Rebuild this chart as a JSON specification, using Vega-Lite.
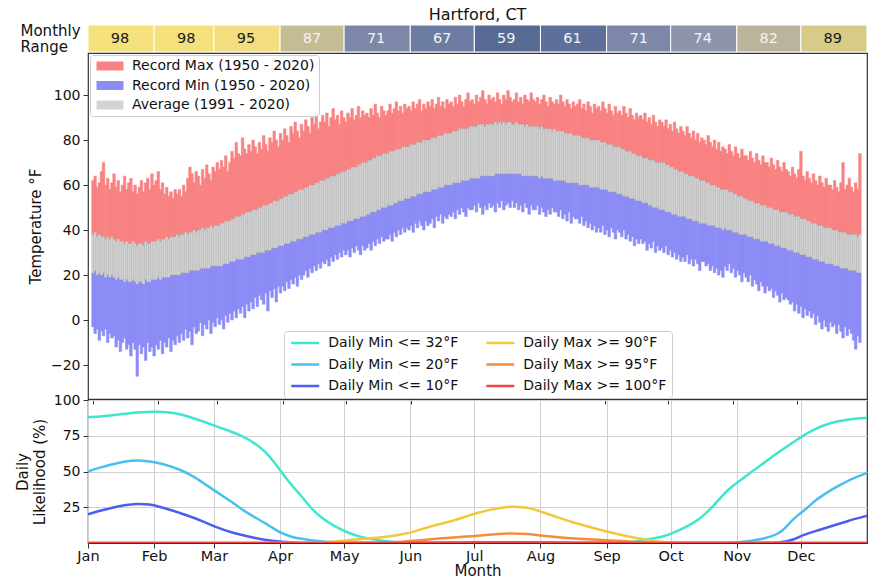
{
"$schema": "https://vega.github.io/schema/vega-lite/v6.json",
"padding": {"left": 14, "top": 7, "right": 3, "bottom": 3},
"background": "white",
"spacing": 1,
"bounds": "flush",
"config": {
  "font": "DejaVu Sans",
  "view": {"stroke": "#333333", "strokeWidth": 1.2},
  "axis": {"labelFont": "DejaVu Sans", "labelFontSize": 14, "labelColor": "#111111", "titleFont": "DejaVu Sans", "titleFontSize": 15, "titleFontWeight": "normal", "titleColor": "#111111", "tickColor": "#333333", "tickSize": 5, "labelPadding": 3, "domain": false},
  "legend": {"labelFont": "DejaVu Sans", "labelFontSize": 14, "labelColor": "#111111", "labelLimit": 400}
},
"resolve": {"scale": {"fill": "independent", "stroke": "independent"}, "legend": {"fill": "independent", "stroke": "independent"}},
"datasets": {
"mr": [
{"s":1,"e":32,"v":98},{"s":32,"e":60,"v":98},{"s":60,"e":91,"v":95},{"s":91,"e":121,"v":87},{"s":121,"e":152,"v":71},{"s":152,"e":182,"v":67},{"s":182,"e":213,"v":59},{"s":213,"e":244,"v":61},{"s":244,"e":274,"v":71},{"s":274,"e":305,"v":74},{"s":305,"e":335,"v":82},{"s":335,"e":366,"v":89}
],
"t": [
{"d":1,"rx":62,"h":38,"l":21,"rn":-3},{"d":2,"rx":64,"h":39,"l":22,"rn":-6},{"d":3,"rx":59,"h":37,"l":20,"rn":-4},{"d":4,"rx":61,"h":38,"l":21,"rn":-9},{"d":5,"rx":66,"h":37,"l":20,"rn":-5},{"d":6,"rx":70,"h":37,"l":21,"rn":-7},{"d":7,"rx":60,"h":36,"l":19,"rn":-4},{"d":8,"rx":63,"h":37,"l":20,"rn":-10},{"d":9,"rx":58,"h":36,"l":19,"rn":-6},{"d":10,"rx":61,"h":37,"l":20,"rn":-8},
{"d":11,"rx":65,"h":36,"l":19,"rn":-7},{"d":12,"rx":59,"h":35,"l":18,"rn":-12},{"d":13,"rx":62,"h":36,"l":19,"rn":-9},{"d":14,"rx":57,"h":35,"l":18,"rn":-14},{"d":15,"rx":60,"h":35,"l":18,"rn":-10},{"d":16,"rx":64,"h":34,"l":17,"rn":-8},{"d":17,"rx":58,"h":35,"l":18,"rn":-13},{"d":18,"rx":61,"h":34,"l":17,"rn":-11},{"d":19,"rx":63,"h":34,"l":17,"rn":-16},{"d":20,"rx":57,"h":35,"l":18,"rn":-10},
{"d":21,"rx":60,"h":34,"l":17,"rn":-13},{"d":22,"rx":56,"h":33,"l":16,"rn":-25},{"d":23,"rx":59,"h":34,"l":17,"rn":-11},{"d":24,"rx":62,"h":34,"l":17,"rn":-15},{"d":25,"rx":57,"h":33,"l":16,"rn":-12},{"d":26,"rx":61,"h":35,"l":18,"rn":-18},{"d":27,"rx":63,"h":34,"l":17,"rn":-10},{"d":28,"rx":58,"h":34,"l":17,"rn":-14},{"d":29,"rx":65,"h":35,"l":18,"rn":-12},{"d":30,"rx":60,"h":35,"l":18,"rn":-16},
{"d":31,"rx":62,"h":35,"l":18,"rn":-11},{"d":32,"rx":66,"h":36,"l":19,"rn":-13},{"d":33,"rx":58,"h":35,"l":18,"rn":-9},{"d":34,"rx":61,"h":36,"l":19,"rn":-15},{"d":35,"rx":56,"h":36,"l":19,"rn":-10},{"d":36,"rx":59,"h":37,"l":19,"rn":-12},{"d":37,"rx":55,"h":36,"l":19,"rn":-8},{"d":38,"rx":57,"h":37,"l":20,"rn":-14},{"d":39,"rx":54,"h":37,"l":20,"rn":-9},{"d":40,"rx":58,"h":37,"l":20,"rn":-11},
{"d":41,"rx":56,"h":38,"l":20,"rn":-7},{"d":42,"rx":58,"h":37,"l":20,"rn":-10},{"d":43,"rx":55,"h":38,"l":21,"rn":-6},{"d":44,"rx":60,"h":38,"l":21,"rn":-9},{"d":45,"rx":57,"h":39,"l":21,"rn":-4},{"d":46,"rx":63,"h":38,"l":21,"rn":-8},{"d":47,"rx":68,"h":39,"l":22,"rn":-5},{"d":48,"rx":65,"h":39,"l":22,"rn":-11},{"d":49,"rx":61,"h":40,"l":22,"rn":-3},{"d":50,"rx":66,"h":39,"l":22,"rn":-6},
{"d":51,"rx":64,"h":40,"l":22,"rn":-5},{"d":52,"rx":60,"h":40,"l":23,"rn":-1},{"d":53,"rx":67,"h":41,"l":23,"rn":-7},{"d":54,"rx":63,"h":40,"l":23,"rn":-2},{"d":55,"rx":69,"h":41,"l":23,"rn":-4},{"d":56,"rx":65,"h":41,"l":23,"rn":0},{"d":57,"rx":62,"h":42,"l":24,"rn":-6},{"d":58,"rx":68,"h":41,"l":24,"rn":-1},{"d":59,"rx":66,"h":42,"l":24,"rn":-3},{"d":60,"rx":70,"h":42,"l":24,"rn":1},
{"d":61,"rx":67,"h":42,"l":24,"rn":-2},{"d":62,"rx":71,"h":43,"l":24,"rn":0},{"d":63,"rx":68,"h":43,"l":25,"rn":-4},{"d":64,"rx":73,"h":44,"l":25,"rn":2},{"d":65,"rx":66,"h":44,"l":25,"rn":-1},{"d":66,"rx":70,"h":44,"l":26,"rn":3},{"d":67,"rx":75,"h":45,"l":26,"rn":0},{"d":68,"rx":72,"h":45,"l":26,"rn":4},{"d":69,"rx":79,"h":46,"l":27,"rn":1},{"d":70,"rx":74,"h":46,"l":27,"rn":5},
{"d":71,"rx":73,"h":46,"l":27,"rn":3},{"d":72,"rx":81,"h":47,"l":27,"rn":6},{"d":73,"rx":76,"h":47,"l":28,"rn":1},{"d":74,"rx":74,"h":48,"l":28,"rn":7},{"d":75,"rx":78,"h":48,"l":28,"rn":4},{"d":76,"rx":75,"h":48,"l":29,"rn":8},{"d":77,"rx":80,"h":49,"l":29,"rn":5},{"d":78,"rx":77,"h":49,"l":29,"rn":10},{"d":79,"rx":74,"h":49,"l":30,"rn":6},{"d":80,"rx":79,"h":50,"l":30,"rn":11},
{"d":81,"rx":76,"h":50,"l":30,"rn":9},{"d":82,"rx":82,"h":51,"l":30,"rn":7},{"d":83,"rx":78,"h":51,"l":31,"rn":12},{"d":84,"rx":75,"h":51,"l":31,"rn":4},{"d":85,"rx":81,"h":52,"l":31,"rn":13},{"d":86,"rx":79,"h":52,"l":32,"rn":10},{"d":87,"rx":84,"h":53,"l":32,"rn":14},{"d":88,"rx":80,"h":53,"l":32,"rn":8},{"d":89,"rx":77,"h":53,"l":33,"rn":15},{"d":90,"rx":83,"h":54,"l":33,"rn":12},
{"d":91,"rx":80,"h":54,"l":33,"rn":15},{"d":92,"rx":85,"h":55,"l":34,"rn":13},{"d":93,"rx":82,"h":55,"l":34,"rn":17},{"d":94,"rx":79,"h":56,"l":34,"rn":14},{"d":95,"rx":86,"h":56,"l":35,"rn":18},{"d":96,"rx":83,"h":56,"l":35,"rn":16},{"d":97,"rx":88,"h":57,"l":35,"rn":19},{"d":98,"rx":84,"h":57,"l":36,"rn":15},{"d":99,"rx":81,"h":58,"l":36,"rn":20},{"d":100,"rx":87,"h":58,"l":36,"rn":18},
{"d":101,"rx":84,"h":58,"l":37,"rn":20},{"d":102,"rx":89,"h":59,"l":37,"rn":22},{"d":103,"rx":86,"h":59,"l":37,"rn":19},{"d":104,"rx":83,"h":60,"l":38,"rn":23},{"d":105,"rx":90,"h":60,"l":38,"rn":21},{"d":106,"rx":87,"h":60,"l":38,"rn":24},{"d":107,"rx":92,"h":61,"l":39,"rn":22},{"d":108,"rx":85,"h":61,"l":39,"rn":25},{"d":109,"rx":88,"h":62,"l":39,"rn":23},{"d":110,"rx":91,"h":62,"l":40,"rn":26},
{"d":111,"rx":88,"h":62,"l":40,"rn":25},{"d":112,"rx":92,"h":63,"l":40,"rn":27},{"d":113,"rx":86,"h":63,"l":41,"rn":24},{"d":114,"rx":90,"h":64,"l":41,"rn":28},{"d":115,"rx":94,"h":64,"l":41,"rn":26},{"d":116,"rx":89,"h":64,"l":42,"rn":29},{"d":117,"rx":91,"h":65,"l":42,"rn":27},{"d":118,"rx":87,"h":65,"l":42,"rn":30},{"d":119,"rx":93,"h":66,"l":43,"rn":28},{"d":120,"rx":90,"h":66,"l":43,"rn":31},
{"d":121,"rx":88,"h":66,"l":43,"rn":29},{"d":122,"rx":92,"h":67,"l":44,"rn":31},{"d":123,"rx":90,"h":67,"l":44,"rn":28},{"d":124,"rx":94,"h":68,"l":44,"rn":32},{"d":125,"rx":89,"h":68,"l":45,"rn":30},{"d":126,"rx":91,"h":68,"l":45,"rn":33},{"d":127,"rx":95,"h":69,"l":45,"rn":31},{"d":128,"rx":90,"h":69,"l":46,"rn":29},{"d":129,"rx":93,"h":70,"l":46,"rn":33},{"d":130,"rx":91,"h":70,"l":46,"rn":31},
{"d":131,"rx":92,"h":70,"l":47,"rn":32},{"d":132,"rx":90,"h":71,"l":47,"rn":34},{"d":133,"rx":94,"h":71,"l":48,"rn":31},{"d":134,"rx":91,"h":72,"l":48,"rn":35},{"d":135,"rx":96,"h":72,"l":48,"rn":33},{"d":136,"rx":92,"h":73,"l":49,"rn":36},{"d":137,"rx":90,"h":73,"l":49,"rn":34},{"d":138,"rx":95,"h":73,"l":50,"rn":37},{"d":139,"rx":93,"h":74,"l":50,"rn":35},{"d":140,"rx":91,"h":74,"l":50,"rn":36},
{"d":141,"rx":93,"h":74,"l":51,"rn":36},{"d":142,"rx":96,"h":75,"l":51,"rn":38},{"d":143,"rx":92,"h":75,"l":51,"rn":35},{"d":144,"rx":94,"h":75,"l":52,"rn":39},{"d":145,"rx":97,"h":76,"l":52,"rn":37},{"d":146,"rx":93,"h":76,"l":53,"rn":40},{"d":147,"rx":95,"h":76,"l":53,"rn":38},{"d":148,"rx":92,"h":77,"l":53,"rn":41},{"d":149,"rx":96,"h":77,"l":54,"rn":39},{"d":150,"rx":94,"h":77,"l":54,"rn":41},
{"d":151,"rx":95,"h":77,"l":54,"rn":40},{"d":152,"rx":93,"h":78,"l":55,"rn":42},{"d":153,"rx":97,"h":78,"l":55,"rn":39},{"d":154,"rx":94,"h":78,"l":55,"rn":43},{"d":155,"rx":96,"h":79,"l":56,"rn":41},{"d":156,"rx":98,"h":79,"l":56,"rn":44},{"d":157,"rx":93,"h":79,"l":56,"rn":42},{"d":158,"rx":96,"h":80,"l":57,"rn":40},{"d":159,"rx":94,"h":80,"l":57,"rn":44},{"d":160,"rx":97,"h":80,"l":57,"rn":42},
{"d":161,"rx":95,"h":80,"l":57,"rn":43},{"d":162,"rx":98,"h":81,"l":58,"rn":45},{"d":163,"rx":94,"h":81,"l":58,"rn":41},{"d":164,"rx":96,"h":81,"l":58,"rn":46},{"d":165,"rx":99,"h":82,"l":59,"rn":44},{"d":166,"rx":95,"h":82,"l":59,"rn":47},{"d":167,"rx":97,"h":82,"l":59,"rn":43},{"d":168,"rx":94,"h":83,"l":60,"rn":46},{"d":169,"rx":98,"h":83,"l":60,"rn":45},{"d":170,"rx":96,"h":83,"l":60,"rn":47},
{"d":171,"rx":97,"h":83,"l":60,"rn":46},{"d":172,"rx":95,"h":84,"l":61,"rn":48},{"d":173,"rx":99,"h":84,"l":61,"rn":45},{"d":174,"rx":96,"h":84,"l":61,"rn":49},{"d":175,"rx":100,"h":85,"l":61,"rn":47},{"d":176,"rx":97,"h":85,"l":62,"rn":50},{"d":177,"rx":95,"h":85,"l":62,"rn":48},{"d":178,"rx":98,"h":85,"l":62,"rn":46},{"d":179,"rx":101,"h":85,"l":62,"rn":50},{"d":180,"rx":97,"h":86,"l":63,"rn":49},
{"d":181,"rx":98,"h":86,"l":63,"rn":49},{"d":182,"rx":96,"h":86,"l":63,"rn":51},{"d":183,"rx":100,"h":86,"l":63,"rn":48},{"d":184,"rx":97,"h":87,"l":63,"rn":52},{"d":185,"rx":99,"h":87,"l":64,"rn":50},{"d":186,"rx":102,"h":87,"l":64,"rn":47},{"d":187,"rx":98,"h":86,"l":64,"rn":51},{"d":188,"rx":96,"h":87,"l":64,"rn":49},{"d":189,"rx":100,"h":87,"l":64,"rn":52},{"d":190,"rx":98,"h":87,"l":64,"rn":50},
{"d":191,"rx":99,"h":87,"l":64,"rn":51},{"d":192,"rx":97,"h":88,"l":65,"rn":48},{"d":193,"rx":101,"h":87,"l":65,"rn":52},{"d":194,"rx":98,"h":88,"l":65,"rn":50},{"d":195,"rx":96,"h":87,"l":65,"rn":53},{"d":196,"rx":100,"h":88,"l":65,"rn":49},{"d":197,"rx":98,"h":87,"l":65,"rn":51},{"d":198,"rx":102,"h":88,"l":65,"rn":52},{"d":199,"rx":99,"h":88,"l":65,"rn":50},{"d":200,"rx":97,"h":87,"l":65,"rn":53},
{"d":201,"rx":98,"h":87,"l":65,"rn":50},{"d":202,"rx":101,"h":88,"l":65,"rn":52},{"d":203,"rx":97,"h":87,"l":65,"rn":49},{"d":204,"rx":99,"h":87,"l":65,"rn":51},{"d":205,"rx":96,"h":87,"l":64,"rn":48},{"d":206,"rx":100,"h":86,"l":64,"rn":52},{"d":207,"rx":98,"h":87,"l":64,"rn":50},{"d":208,"rx":97,"h":86,"l":64,"rn":47},{"d":209,"rx":101,"h":86,"l":64,"rn":51},{"d":210,"rx":98,"h":86,"l":64,"rn":49},
{"d":211,"rx":97,"h":86,"l":64,"rn":49},{"d":212,"rx":99,"h":86,"l":64,"rn":51},{"d":213,"rx":96,"h":85,"l":63,"rn":47},{"d":214,"rx":98,"h":86,"l":64,"rn":50},{"d":215,"rx":100,"h":85,"l":63,"rn":48},{"d":216,"rx":97,"h":85,"l":63,"rn":46},{"d":217,"rx":95,"h":85,"l":63,"rn":49},{"d":218,"rx":99,"h":85,"l":63,"rn":47},{"d":219,"rx":97,"h":84,"l":63,"rn":50},{"d":220,"rx":96,"h":85,"l":62,"rn":48},
{"d":221,"rx":98,"h":84,"l":62,"rn":48},{"d":222,"rx":96,"h":84,"l":62,"rn":46},{"d":223,"rx":100,"h":84,"l":62,"rn":49},{"d":224,"rx":97,"h":84,"l":62,"rn":45},{"d":225,"rx":95,"h":83,"l":62,"rn":47},{"d":226,"rx":98,"h":83,"l":61,"rn":44},{"d":227,"rx":96,"h":83,"l":61,"rn":48},{"d":228,"rx":94,"h":83,"l":61,"rn":43},{"d":229,"rx":97,"h":82,"l":61,"rn":46},{"d":230,"rx":95,"h":82,"l":61,"rn":45},
{"d":231,"rx":96,"h":82,"l":61,"rn":45},{"d":232,"rx":98,"h":82,"l":60,"rn":43},{"d":233,"rx":94,"h":81,"l":60,"rn":46},{"d":234,"rx":96,"h":81,"l":60,"rn":42},{"d":235,"rx":93,"h":81,"l":60,"rn":44},{"d":236,"rx":97,"h":81,"l":60,"rn":41},{"d":237,"rx":95,"h":80,"l":59,"rn":43},{"d":238,"rx":92,"h":80,"l":59,"rn":40},{"d":239,"rx":96,"h":80,"l":59,"rn":42},{"d":240,"rx":94,"h":80,"l":59,"rn":39},
{"d":241,"rx":95,"h":80,"l":59,"rn":41},{"d":242,"rx":93,"h":79,"l":58,"rn":39},{"d":243,"rx":97,"h":79,"l":58,"rn":42},{"d":244,"rx":94,"h":79,"l":58,"rn":38},{"d":245,"rx":92,"h":78,"l":58,"rn":40},{"d":246,"rx":96,"h":78,"l":57,"rn":37},{"d":247,"rx":93,"h":78,"l":57,"rn":41},{"d":248,"rx":91,"h":77,"l":57,"rn":39},{"d":249,"rx":95,"h":77,"l":57,"rn":36},{"d":250,"rx":92,"h":77,"l":56,"rn":40},
{"d":251,"rx":93,"h":77,"l":56,"rn":39},{"d":252,"rx":91,"h":76,"l":56,"rn":37},{"d":253,"rx":95,"h":76,"l":55,"rn":40},{"d":254,"rx":92,"h":75,"l":55,"rn":36},{"d":255,"rx":90,"h":75,"l":55,"rn":38},{"d":256,"rx":94,"h":75,"l":54,"rn":35},{"d":257,"rx":91,"h":74,"l":54,"rn":37},{"d":258,"rx":89,"h":74,"l":54,"rn":33},{"d":259,"rx":92,"h":73,"l":53,"rn":36},{"d":260,"rx":90,"h":73,"l":53,"rn":34},
{"d":261,"rx":91,"h":73,"l":53,"rn":36},{"d":262,"rx":89,"h":72,"l":52,"rn":34},{"d":263,"rx":92,"h":72,"l":52,"rn":35},{"d":264,"rx":88,"h":72,"l":52,"rn":31},{"d":265,"rx":90,"h":71,"l":51,"rn":34},{"d":266,"rx":87,"h":71,"l":51,"rn":32},{"d":267,"rx":91,"h":71,"l":50,"rn":35},{"d":268,"rx":88,"h":70,"l":50,"rn":30},{"d":269,"rx":86,"h":70,"l":50,"rn":33},{"d":270,"rx":89,"h":70,"l":49,"rn":31},
{"d":271,"rx":88,"h":70,"l":49,"rn":32},{"d":272,"rx":86,"h":70,"l":49,"rn":30},{"d":273,"rx":89,"h":69,"l":48,"rn":33},{"d":274,"rx":85,"h":69,"l":48,"rn":29},{"d":275,"rx":87,"h":68,"l":48,"rn":31},{"d":276,"rx":84,"h":68,"l":47,"rn":28},{"d":277,"rx":88,"h":67,"l":47,"rn":30},{"d":278,"rx":85,"h":67,"l":47,"rn":27},{"d":279,"rx":83,"h":66,"l":46,"rn":29},{"d":280,"rx":86,"h":66,"l":46,"rn":26},
{"d":281,"rx":84,"h":66,"l":46,"rn":28},{"d":282,"rx":82,"h":65,"l":46,"rn":26},{"d":283,"rx":86,"h":65,"l":45,"rn":29},{"d":284,"rx":83,"h":64,"l":45,"rn":25},{"d":285,"rx":81,"h":64,"l":45,"rn":27},{"d":286,"rx":84,"h":64,"l":44,"rn":24},{"d":287,"rx":80,"h":63,"l":44,"rn":27},{"d":288,"rx":83,"h":63,"l":44,"rn":25},{"d":289,"rx":79,"h":62,"l":43,"rn":22},{"d":290,"rx":81,"h":62,"l":43,"rn":26},
{"d":291,"rx":80,"h":62,"l":43,"rn":26},{"d":292,"rx":78,"h":61,"l":43,"rn":24},{"d":293,"rx":82,"h":61,"l":42,"rn":25},{"d":294,"rx":79,"h":60,"l":42,"rn":22},{"d":295,"rx":77,"h":60,"l":42,"rn":24},{"d":296,"rx":80,"h":60,"l":42,"rn":21},{"d":297,"rx":76,"h":59,"l":41,"rn":23},{"d":298,"rx":79,"h":59,"l":41,"rn":20},{"d":299,"rx":75,"h":58,"l":41,"rn":22},{"d":300,"rx":77,"h":58,"l":40,"rn":19},
{"d":301,"rx":76,"h":58,"l":41,"rn":24},{"d":302,"rx":74,"h":58,"l":40,"rn":22},{"d":303,"rx":78,"h":57,"l":40,"rn":25},{"d":304,"rx":75,"h":57,"l":40,"rn":21},{"d":305,"rx":73,"h":56,"l":39,"rn":23},{"d":306,"rx":77,"h":56,"l":39,"rn":19},{"d":307,"rx":74,"h":55,"l":39,"rn":22},{"d":308,"rx":72,"h":55,"l":38,"rn":20},{"d":309,"rx":76,"h":55,"l":38,"rn":17},{"d":310,"rx":73,"h":54,"l":38,"rn":21},
{"d":311,"rx":73,"h":54,"l":38,"rn":19},{"d":312,"rx":71,"h":53,"l":37,"rn":17},{"d":313,"rx":75,"h":53,"l":37,"rn":20},{"d":314,"rx":72,"h":53,"l":37,"rn":15},{"d":315,"rx":70,"h":52,"l":36,"rn":18},{"d":316,"rx":74,"h":52,"l":36,"rn":16},{"d":317,"rx":71,"h":52,"l":36,"rn":13},{"d":318,"rx":69,"h":51,"l":35,"rn":17},{"d":319,"rx":73,"h":51,"l":35,"rn":15},{"d":320,"rx":70,"h":51,"l":35,"rn":12},
{"d":321,"rx":70,"h":50,"l":35,"rn":15},{"d":322,"rx":68,"h":50,"l":34,"rn":13},{"d":323,"rx":72,"h":50,"l":34,"rn":14},{"d":324,"rx":69,"h":49,"l":34,"rn":10},{"d":325,"rx":67,"h":49,"l":33,"rn":13},{"d":326,"rx":71,"h":49,"l":33,"rn":11},{"d":327,"rx":68,"h":48,"l":33,"rn":8},{"d":328,"rx":66,"h":48,"l":32,"rn":12},{"d":329,"rx":70,"h":48,"l":32,"rn":9},{"d":330,"rx":67,"h":48,"l":32,"rn":10},
{"d":331,"rx":66,"h":47,"l":31,"rn":9},{"d":332,"rx":64,"h":47,"l":31,"rn":7},{"d":333,"rx":68,"h":47,"l":31,"rn":8},{"d":334,"rx":65,"h":46,"l":30,"rn":4},{"d":335,"rx":63,"h":46,"l":30,"rn":7},{"d":336,"rx":67,"h":46,"l":30,"rn":3},{"d":337,"rx":75,"h":45,"l":29,"rn":6},{"d":338,"rx":64,"h":45,"l":29,"rn":1},{"d":339,"rx":62,"h":45,"l":29,"rn":5},{"d":340,"rx":66,"h":44,"l":28,"rn":2},
{"d":341,"rx":63,"h":44,"l":28,"rn":4},{"d":342,"rx":61,"h":43,"l":28,"rn":1},{"d":343,"rx":65,"h":43,"l":27,"rn":3},{"d":344,"rx":62,"h":43,"l":27,"rn":-2},{"d":345,"rx":60,"h":42,"l":27,"rn":2},{"d":346,"rx":64,"h":42,"l":26,"rn":-1},{"d":347,"rx":61,"h":42,"l":26,"rn":-4},{"d":348,"rx":59,"h":41,"l":26,"rn":0},{"d":349,"rx":63,"h":41,"l":25,"rn":-3},{"d":350,"rx":60,"h":41,"l":25,"rn":-5},
{"d":351,"rx":60,"h":41,"l":25,"rn":-1},{"d":352,"rx":58,"h":40,"l":25,"rn":-3},{"d":353,"rx":62,"h":40,"l":24,"rn":-2},{"d":354,"rx":59,"h":40,"l":24,"rn":-6},{"d":355,"rx":57,"h":39,"l":24,"rn":-2},{"d":356,"rx":61,"h":39,"l":23,"rn":-5},{"d":357,"rx":70,"h":39,"l":23,"rn":-8},{"d":358,"rx":58,"h":39,"l":23,"rn":-3},{"d":359,"rx":60,"h":38,"l":23,"rn":-7},{"d":360,"rx":63,"h":38,"l":22,"rn":-4},
{"d":361,"rx":59,"h":38,"l":22,"rn":-6},{"d":362,"rx":57,"h":38,"l":22,"rn":-9},{"d":363,"rx":61,"h":38,"l":22,"rn":-13},{"d":364,"rx":58,"h":37,"l":21,"rn":-7},{"d":365,"rx":74,"h":38,"l":21,"rn":-10}
],
"lk": [
{"s":"Daily Min <= 32°F","d":1,"p":88},{"s":"Daily Min <= 32°F","d":8,"p":88.5},{"s":"Daily Min <= 32°F","d":16,"p":90},{"s":"Daily Min <= 32°F","d":24,"p":91.5},{"s":"Daily Min <= 32°F","d":34,"p":92},{"s":"Daily Min <= 32°F","d":42,"p":91},{"s":"Daily Min <= 32°F","d":48,"p":88.5},{"s":"Daily Min <= 32°F","d":55,"p":85},{"s":"Daily Min <= 32°F","d":62,"p":81},{"s":"Daily Min <= 32°F","d":68,"p":78},{"s":"Daily Min <= 32°F","d":73,"p":75},{"s":"Daily Min <= 32°F","d":79,"p":70},{"s":"Daily Min <= 32°F","d":84,"p":64},{"s":"Daily Min <= 32°F","d":88,"p":57},{"s":"Daily Min <= 32°F","d":92,"p":49},{"s":"Daily Min <= 32°F","d":96,"p":41},{"s":"Daily Min <= 32°F","d":101,"p":33},{"s":"Daily Min <= 32°F","d":105,"p":25},{"s":"Daily Min <= 32°F","d":110,"p":18},{"s":"Daily Min <= 32°F","d":116,"p":12},{"s":"Daily Min <= 32°F","d":123,"p":7},{"s":"Daily Min <= 32°F","d":129,"p":4},{"s":"Daily Min <= 32°F","d":135,"p":2.5},{"s":"Daily Min <= 32°F","d":142,"p":1},{"s":"Daily Min <= 32°F","d":150,"p":0.3},{"s":"Daily Min <= 32°F","d":160,"p":0},{"s":"Daily Min <= 32°F","d":250,"p":0},{"s":"Daily Min <= 32°F","d":255,"p":0.5},{"s":"Daily Min <= 32°F","d":260,"p":1.5},{"s":"Daily Min <= 32°F","d":265,"p":3},{"s":"Daily Min <= 32°F","d":271,"p":4.5},{"s":"Daily Min <= 32°F","d":275,"p":7},{"s":"Daily Min <= 32°F","d":281,"p":11},{"s":"Daily Min <= 32°F","d":287,"p":16},{"s":"Daily Min <= 32°F","d":293,"p":24},{"s":"Daily Min <= 32°F","d":298,"p":33},{"s":"Daily Min <= 32°F","d":303,"p":40},{"s":"Daily Min <= 32°F","d":307,"p":44},{"s":"Daily Min <= 32°F","d":312,"p":50},{"s":"Daily Min <= 32°F","d":317,"p":55},{"s":"Daily Min <= 32°F","d":322,"p":61},{"s":"Daily Min <= 32°F","d":328,"p":67},{"s":"Daily Min <= 32°F","d":333,"p":72},{"s":"Daily Min <= 32°F","d":337,"p":76},{"s":"Daily Min <= 32°F","d":342,"p":80},{"s":"Daily Min <= 32°F","d":347,"p":83},{"s":"Daily Min <= 32°F","d":352,"p":85},{"s":"Daily Min <= 32°F","d":357,"p":86.5},{"s":"Daily Min <= 32°F","d":366,"p":87.5},
{"s":"Daily Min <= 20°F","d":1,"p":50},{"s":"Daily Min <= 20°F","d":6,"p":52.5},{"s":"Daily Min <= 20°F","d":12,"p":55},{"s":"Daily Min <= 20°F","d":18,"p":57},{"s":"Daily Min <= 20°F","d":24,"p":58},{"s":"Daily Min <= 20°F","d":30,"p":57},{"s":"Daily Min <= 20°F","d":36,"p":55.5},{"s":"Daily Min <= 20°F","d":44,"p":51.5},{"s":"Daily Min <= 20°F","d":50,"p":47},{"s":"Daily Min <= 20°F","d":55,"p":42},{"s":"Daily Min <= 20°F","d":60,"p":37},{"s":"Daily Min <= 20°F","d":65,"p":32},{"s":"Daily Min <= 20°F","d":70,"p":27},{"s":"Daily Min <= 20°F","d":73,"p":23.5},{"s":"Daily Min <= 20°F","d":79,"p":18},{"s":"Daily Min <= 20°F","d":84,"p":14},{"s":"Daily Min <= 20°F","d":88,"p":10},{"s":"Daily Min <= 20°F","d":92,"p":6.5},{"s":"Daily Min <= 20°F","d":97,"p":4},{"s":"Daily Min <= 20°F","d":101,"p":3},{"s":"Daily Min <= 20°F","d":107,"p":1.5},{"s":"Daily Min <= 20°F","d":115,"p":0.5},{"s":"Daily Min <= 20°F","d":125,"p":0},{"s":"Daily Min <= 20°F","d":300,"p":0},{"s":"Daily Min <= 20°F","d":306,"p":0.5},{"s":"Daily Min <= 20°F","d":312,"p":1.5},{"s":"Daily Min <= 20°F","d":317,"p":2.8},{"s":"Daily Min <= 20°F","d":322,"p":5},{"s":"Daily Min <= 20°F","d":325,"p":7},{"s":"Daily Min <= 20°F","d":328,"p":11},{"s":"Daily Min <= 20°F","d":331,"p":16},{"s":"Daily Min <= 20°F","d":334,"p":20},{"s":"Daily Min <= 20°F","d":336,"p":22},{"s":"Daily Min <= 20°F","d":339,"p":26},{"s":"Daily Min <= 20°F","d":342,"p":30},{"s":"Daily Min <= 20°F","d":346,"p":34},{"s":"Daily Min <= 20°F","d":349,"p":37},{"s":"Daily Min <= 20°F","d":354,"p":41},{"s":"Daily Min <= 20°F","d":359,"p":45},{"s":"Daily Min <= 20°F","d":366,"p":49},
{"s":"Daily Min <= 10°F","d":1,"p":20},{"s":"Daily Min <= 10°F","d":6,"p":22.5},{"s":"Daily Min <= 10°F","d":12,"p":24.5},{"s":"Daily Min <= 10°F","d":18,"p":26.5},{"s":"Daily Min <= 10°F","d":24,"p":27.5},{"s":"Daily Min <= 10°F","d":30,"p":27},{"s":"Daily Min <= 10°F","d":34,"p":25.6},{"s":"Daily Min <= 10°F","d":40,"p":23},{"s":"Daily Min <= 10°F","d":44,"p":21},{"s":"Daily Min <= 10°F","d":50,"p":18},{"s":"Daily Min <= 10°F","d":55,"p":15},{"s":"Daily Min <= 10°F","d":62,"p":10.5},{"s":"Daily Min <= 10°F","d":68,"p":7.5},{"s":"Daily Min <= 10°F","d":73,"p":5.6},{"s":"Daily Min <= 10°F","d":79,"p":3.5},{"s":"Daily Min <= 10°F","d":84,"p":2.1},{"s":"Daily Min <= 10°F","d":92,"p":0.7},{"s":"Daily Min <= 10°F","d":100,"p":0.2},{"s":"Daily Min <= 10°F","d":105,"p":0},{"s":"Daily Min <= 10°F","d":320,"p":0},{"s":"Daily Min <= 10°F","d":324,"p":0.3},{"s":"Daily Min <= 10°F","d":328,"p":1},{"s":"Daily Min <= 10°F","d":331,"p":2},{"s":"Daily Min <= 10°F","d":336,"p":5.6},{"s":"Daily Min <= 10°F","d":342,"p":8.5},{"s":"Daily Min <= 10°F","d":349,"p":11.5},{"s":"Daily Min <= 10°F","d":357,"p":15.5},{"s":"Daily Min <= 10°F","d":366,"p":19},
{"s":"Daily Max >= 90°F","d":1,"p":0},{"s":"Daily Max >= 90°F","d":105,"p":0},{"s":"Daily Max >= 90°F","d":111,"p":0.5},{"s":"Daily Max >= 90°F","d":118,"p":1.2},{"s":"Daily Max >= 90°F","d":123,"p":2},{"s":"Daily Max >= 90°F","d":132,"p":3},{"s":"Daily Max >= 90°F","d":142,"p":4.5},{"s":"Daily Max >= 90°F","d":150,"p":6.5},{"s":"Daily Max >= 90°F","d":154,"p":8},{"s":"Daily Max >= 90°F","d":161,"p":11.5},{"s":"Daily Max >= 90°F","d":171,"p":15},{"s":"Daily Max >= 90°F","d":176,"p":17.5},{"s":"Daily Max >= 90°F","d":183,"p":21},{"s":"Daily Max >= 90°F","d":190,"p":23.5},{"s":"Daily Max >= 90°F","d":196,"p":25},{"s":"Daily Max >= 90°F","d":200,"p":25.5},{"s":"Daily Max >= 90°F","d":205,"p":25},{"s":"Daily Max >= 90°F","d":208,"p":24.6},{"s":"Daily Max >= 90°F","d":213,"p":22},{"s":"Daily Max >= 90°F","d":220,"p":18.5},{"s":"Daily Max >= 90°F","d":227,"p":15},{"s":"Daily Max >= 90°F","d":235,"p":11.5},{"s":"Daily Max >= 90°F","d":244,"p":8},{"s":"Daily Max >= 90°F","d":251,"p":5.5},{"s":"Daily Max >= 90°F","d":258,"p":3.5},{"s":"Daily Max >= 90°F","d":263,"p":2},{"s":"Daily Max >= 90°F","d":268,"p":1},{"s":"Daily Max >= 90°F","d":274,"p":0.3},{"s":"Daily Max >= 90°F","d":280,"p":0},{"s":"Daily Max >= 90°F","d":366,"p":0},
{"s":"Daily Max >= 95°F","d":1,"p":0},{"s":"Daily Max >= 95°F","d":135,"p":0},{"s":"Daily Max >= 95°F","d":142,"p":0.3},{"s":"Daily Max >= 95°F","d":150,"p":1},{"s":"Daily Max >= 95°F","d":161,"p":2.6},{"s":"Daily Max >= 95°F","d":170,"p":3.6},{"s":"Daily Max >= 95°F","d":183,"p":5},{"s":"Daily Max >= 95°F","d":192,"p":6.2},{"s":"Daily Max >= 95°F","d":199,"p":6.8},{"s":"Daily Max >= 95°F","d":207,"p":6.4},{"s":"Daily Max >= 95°F","d":214,"p":5},{"s":"Daily Max >= 95°F","d":220,"p":4.2},{"s":"Daily Max >= 95°F","d":227,"p":3.3},{"s":"Daily Max >= 95°F","d":235,"p":2.6},{"s":"Daily Max >= 95°F","d":244,"p":2},{"s":"Daily Max >= 95°F","d":251,"p":1.3},{"s":"Daily Max >= 95°F","d":258,"p":0.7},{"s":"Daily Max >= 95°F","d":265,"p":0.3},{"s":"Daily Max >= 95°F","d":272,"p":0},{"s":"Daily Max >= 95°F","d":366,"p":0},
{"s":"Daily Max >= 100°F","d":1,"p":0},{"s":"Daily Max >= 100°F","d":160,"p":0},{"s":"Daily Max >= 100°F","d":175,"p":0.3},{"s":"Daily Max >= 100°F","d":195,"p":0.6},{"s":"Daily Max >= 100°F","d":210,"p":0.5},{"s":"Daily Max >= 100°F","d":225,"p":0.2},{"s":"Daily Max >= 100°F","d":240,"p":0},{"s":"Daily Max >= 100°F","d":366,"p":0}
]
},
"vconcat": [
{
  "width": 779, "height": 27,
  "title": {"text": "Hartford, CT", "fontSize": 16, "fontWeight": "normal", "font": "DejaVu Sans", "color": "#111111", "anchor": "middle", "frame": "group", "offset": -13, "baseline": "alphabetic"},
  "data": {"name": "mr"},
  "view": {"stroke": null},
  "encoding": {
    "x": {"field": "s", "type": "quantitative", "scale": {"domain": [1, 366], "nice": false, "zero": false}, "axis": null},
    "y": {"datum": "r", "type": "nominal", "scale": {"paddingInner": 0, "paddingOuter": 0}, "axis": {"labels": false, "ticks": false, "domain": false, "title": ["Monthly", "Range"], "titleAngle": 0, "titleAlign": "left", "titleBaseline": "top", "titleX": -68, "titleY": -2, "titleLineHeight": 16.5, "titleFontSize": 15}}
  },
  "layer": [
    {"mark": {"type": "rect", "stroke": "white", "strokeWidth": 1},
     "encoding": {"x2": {"field": "e"}, "fill": {"field": "v", "type": "ordinal", "scale": {"domain": [59, 61, 67, 71, 74, 82, 87, 89, 95, 98], "range": ["#566a94", "#5e7099", "#6d7ca2", "#7d87a7", "#8d94ab", "#bab49d", "#c5bc94", "#d8cb88", "#f2de80", "#f5e17c"]}, "legend": null}}},
    {"mark": {"type": "text", "dx": 32, "fontSize": 14.5, "baseline": "middle", "font": "DejaVu Sans"},
     "encoding": {"text": {"field": "v", "type": "quantitative"}, "color": {"condition": {"test": "datum.v >= 88", "value": "#1a1a1a"}, "value": "#f4f4f4"}}}
  ]
},
{
  "width": 779, "height": 346,
  "data": {"name": "t"},
  "encoding": {
    "x": {"field": "d", "type": "quantitative", "scale": {"domain": [1, 366], "nice": false, "zero": false}, "axis": {"values": [1, 32, 60, 91, 121, 152, 182, 213, 244, 274, 305, 335], "labels": false, "ticks": true, "title": null, "grid": false}}
  },
  "layer": [
    {"mark": {"type": "bar", "width": 2.6, "clip": true, "stroke": "#f98282", "strokeWidth": 0.5},
     "encoding": {
       "y": {"field": "h", "type": "quantitative", "scale": {"domain": [-35.1, 118.7], "nice": false, "zero": false}, "axis": {"values": [-20, 0, 20, 40, 60, 80, 100], "title": "Temperature °F", "titleX": -48, "titleBaseline": "alphabetic", "grid": false}},
       "y2": {"field": "rx"},
       "fill": {"datum": "Record Max (1950 - 2020)", "type": "nominal", "scale": {"domain": ["Record Max (1950 - 2020)", "Record Min (1950 - 2020)", "Average (1991 - 2020)"], "range": ["#f98282", "#8c8cf6", "#d4d4d4"]},
         "legend": {"title": null, "orient": "top-left", "offset": 2, "symbolType": "M-3,-1H3V1H-3Z", "symbolSize": 81, "symbolOffset": 9, "labelOffset": 15, "padding": 4, "fillColor": "rgba(255,255,255,0.85)", "strokeColor": "#cccccc", "cornerRadius": 3, "rowPadding": 5.5, "symbolStrokeWidth": 0, "symbolOpacity": 1}}
     }},
    {"mark": {"type": "bar", "width": 2.6, "clip": true, "stroke": "#8c8cf6", "strokeWidth": 0.5},
     "encoding": {"y": {"field": "rn", "type": "quantitative"}, "y2": {"field": "l"}, "fill": {"datum": "Record Min (1950 - 2020)", "type": "nominal"}}},
    {"mark": {"type": "bar", "width": 2.6, "clip": true, "stroke": "#a5a5a5", "strokeWidth": 0.4},
     "encoding": {"y": {"field": "l", "type": "quantitative"}, "y2": {"field": "h"}, "fill": {"datum": "Average (1991 - 2020)", "type": "nominal"}}}
  ]
},
{
  "width": 779, "height": 143,
  "data": {"name": "lk"},
  "mark": {"type": "line", "interpolate": "basis", "strokeWidth": 2.5, "clip": true},
  "encoding": {
    "x": {"field": "d", "type": "quantitative", "scale": {"domain": [1, 366], "nice": false, "zero": false}, "axis": {"values": [1, 32, 60, 91, 121, 152, 182, 213, 244, 274, 305, 335], "labelExpr": "['Jan','Feb','Mar','Apr','May','Jun','Jul','Aug','Sep','Oct','Nov','Dec'][indexof([1,32,60,91,121,152,182,213,244,274,305,335], datum.value)]", "title": "Month", "grid": true, "gridColor": "#d0d0d0", "labelPadding": 1, "titlePadding": 1, "labelFlush": false, "labelFontSize": 14.5}},
    "y": {"field": "p", "type": "quantitative", "scale": {"domain": [0, 100], "nice": false}, "axis": {"values": [25, 50, 75, 100], "title": ["Daily", "Likelihood (%)"], "titleX": -61, "titleBaseline": "alphabetic", "titleLineHeight": 17, "grid": true, "gridColor": "#d0d0d0"}},
    "stroke": {"field": "s", "type": "nominal", "sort": null,
      "scale": {"domain": ["Daily Min <= 32°F", "Daily Min <= 20°F", "Daily Min <= 10°F", "Daily Max >= 90°F", "Daily Max >= 95°F", "Daily Max >= 100°F"], "range": ["#3fe6cf", "#48c0f0", "#4b5ef0", "#f2c83a", "#f58c3c", "#ee4646"]},
      "legend": {"title": null, "orient": "none", "legendX": 196, "legendY": -69, "columns": 2, "symbolType": "M-3,0H3", "symbolSize": 87, "symbolStrokeWidth": 2.5, "symbolOffset": 9.3, "labelOffset": 16, "columnPadding": 22, "rowPadding": 7.5, "padding": 5, "fillColor": "rgba(255,255,255,0.85)", "strokeColor": "#cccccc", "cornerRadius": 3}}
  }
}
]
}
